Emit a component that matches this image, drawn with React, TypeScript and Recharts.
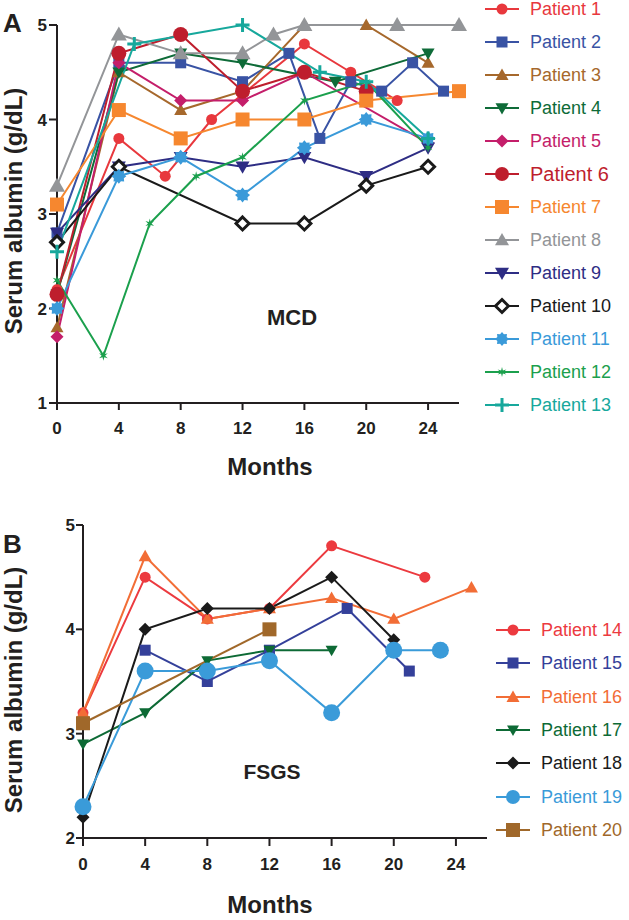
import React from "react";
import { LineChart, Line, XAxis, YAxis } from "recharts";

const FONT = "'Liberation Sans', Arial, Helvetica, sans-serif";
const INK = "#231f20";

// ---------- Panel A (MCD) ----------
const monthTicks = [0, 4, 8, 12, 16, 20, 24];
const yTicksA = [1, 2, 3, 4, 5];
const yTicksB = [2, 3, 4, 5];

const p1Months = [0, 4, 7, 10, 16, 19, 22];
const p1Values = [2.2, 3.8, 3.4, 4.0, 4.8, 4.5, 4.2];
const p2Months = [0, 4, 8, 12, 15, 17, 19, 21, 23, 25];
const p2Values = [2.8, 4.6, 4.6, 4.4, 4.7, 3.8, 4.4, 4.3, 4.6, 4.3];
const p3Months = [0, 4, 8, 12, 16, 20, 24];
const p3Values = [1.8, 4.5, 4.1, 4.3, 5.0, 5.0, 4.6];
const p4Months = [0, 4, 8, 12, 18, 24];
const p4Values = [2.15, 4.5, 4.7, 4.6, 4.4, 4.7];
const p5Months = [0, 4, 8, 12, 16, 24];
const p5Values = [1.7, 4.6, 4.2, 4.2, 4.5, 3.75];
const p6Months = [0, 4, 8, 12, 16, 20];
const p6Values = [2.15, 4.7, 4.9, 4.3, 4.5, 4.3];
const p7Months = [0, 4, 8, 12, 16, 20, 26];
const p7Values = [3.1, 4.1, 3.8, 4.0, 4.0, 4.2, 4.3];
const p8Months = [0, 4, 8, 12, 14, 16, 22, 26];
const p8Values = [3.3, 4.9, 4.7, 4.7, 4.9, 5.0, 5.0, 5.0];
const p9Months = [0, 4, 8, 12, 16, 20, 24];
const p9Values = [2.8, 3.5, 3.6, 3.5, 3.6, 3.4, 3.7];
const p10Months = [0, 4, 12, 16, 20, 24];
const p10Values = [2.7, 3.5, 2.9, 2.9, 3.3, 3.5];
const p11Months = [0, 4, 8, 12, 16, 20, 24];
const p11Values = [2.0, 3.4, 3.6, 3.2, 3.7, 4.0, 3.8];
const p12Months = [0, 3, 6, 9, 12, 16, 20, 24];
const p12Values = [2.3, 1.5, 2.9, 3.4, 3.6, 4.2, 4.4, 3.7];
const p13Months = [0, 5, 12, 17, 20, 24];
const p13Values = [2.6, 4.8, 5.0, 4.5, 4.4, 3.8];

// ---------- Panel B (FSGS) ----------
const p14Months = [0, 4, 8, 12, 16, 22];
const p14Values = [3.2, 4.5, 4.1, 4.2, 4.8, 4.5];
const p15Months = [4, 8, 12, 17, 21];
const p15Values = [3.8, 3.5, 3.8, 4.2, 3.6];
const p16Months = [0, 4, 8, 12, 16, 20, 25];
const p16Values = [3.2, 4.7, 4.1, 4.2, 4.3, 4.1, 4.4];
const p17Months = [0, 4, 8, 12, 16];
const p17Values = [2.9, 3.2, 3.7, 3.8, 3.8];
const p18Months = [0, 4, 8, 12, 16, 20];
const p18Values = [2.2, 4.0, 4.2, 4.2, 4.5, 3.9];
const p19Months = [0, 4, 8, 12, 16, 20, 23];
const p19Values = [2.3, 3.6, 3.6, 3.7, 3.2, 3.8, 3.8];
const p20Months = [0, 12];
const p20Values = [3.1, 4.0];

const toPoints = (m: number[], v: number[]) => m.map((x, i) => ({ x, y: v[i] }));

type Shape =
  | "circle" | "square" | "triangle" | "triangleDown" | "diamond"
  | "openDiamond" | "burst" | "star" | "plus";

interface Series {
  name: string;
  color: string;
  shape: Shape;
  size: number;
  data: { x: number; y: number }[];
  fontSize?: number;
}

const seriesA: Series[] = [
  { name: "Patient 1", color: "#e8383d", shape: "circle", size: 11, data: toPoints(p1Months, p1Values) },
  { name: "Patient 2", color: "#3953a4", shape: "square", size: 11, data: toPoints(p2Months, p2Values) },
  { name: "Patient 3", color: "#a6682c", shape: "triangle", size: 13, data: toPoints(p3Months, p3Values) },
  { name: "Patient 4", color: "#0e6b38", shape: "triangleDown", size: 13, data: toPoints(p4Months, p4Values) },
  { name: "Patient 5", color: "#c41e6a", shape: "diamond", size: 13, data: toPoints(p5Months, p5Values) },
  { name: "Patient 6", color: "#be1e2d", shape: "circle", size: 15, data: toPoints(p6Months, p6Values), fontSize: 20 },
  { name: "Patient 7", color: "#f6872f", shape: "square", size: 14, data: toPoints(p7Months, p7Values) },
  { name: "Patient 8", color: "#939598", shape: "triangle", size: 16, data: toPoints(p8Months, p8Values) },
  { name: "Patient 9", color: "#2e2d84", shape: "triangleDown", size: 14, data: toPoints(p9Months, p9Values) },
  { name: "Patient 10", color: "#1a1a1a", shape: "openDiamond", size: 13, data: toPoints(p10Months, p10Values) },
  { name: "Patient 11", color: "#3a9ad9", shape: "burst", size: 15, data: toPoints(p11Months, p11Values) },
  { name: "Patient 12", color: "#1ba04d", shape: "star", size: 10, data: toPoints(p12Months, p12Values) },
  { name: "Patient 13", color: "#17a89c", shape: "plus", size: 14, data: toPoints(p13Months, p13Values) },
];

const seriesB: Series[] = [
  { name: "Patient 14", color: "#ec3a3f", shape: "circle", size: 11, data: toPoints(p14Months, p14Values) },
  { name: "Patient 15", color: "#34409a", shape: "square", size: 11, data: toPoints(p15Months, p15Values) },
  { name: "Patient 16", color: "#f26d36", shape: "triangle", size: 13, data: toPoints(p16Months, p16Values) },
  { name: "Patient 17", color: "#0d6a35", shape: "triangleDown", size: 12, data: toPoints(p17Months, p17Values) },
  { name: "Patient 18", color: "#1a1a1a", shape: "diamond", size: 13, data: toPoints(p18Months, p18Values) },
  { name: "Patient 19", color: "#3a9bd9", shape: "circle", size: 17, data: toPoints(p19Months, p19Values) },
  { name: "Patient 20", color: "#a0682a", shape: "square", size: 14, data: toPoints(p20Months, p20Values) },
];

function Marker({ shape, cx, cy, color, size }: { shape: Shape; cx: number; cy: number; color: string; size: number }) {
  const s = size / 2;
  switch (shape) {
    case "circle":
      return <circle cx={cx} cy={cy} r={s} fill={color} />;
    case "square":
      return <rect x={cx - s} y={cy - s} width={size} height={size} fill={color} />;
    case "triangle":
      return <polygon points={`${cx},${cy - s} ${cx + s},${cy + s * 0.75} ${cx - s},${cy + s * 0.75}`} fill={color} />;
    case "triangleDown":
      return <polygon points={`${cx},${cy + s} ${cx + s},${cy - s * 0.75} ${cx - s},${cy - s * 0.75}`} fill={color} />;
    case "diamond":
      return <polygon points={`${cx},${cy - s} ${cx + s},${cy} ${cx},${cy + s} ${cx - s},${cy}`} fill={color} />;
    case "openDiamond":
      return (
        <polygon
          points={`${cx},${cy - s} ${cx + s},${cy} ${cx},${cy + s} ${cx - s},${cy}`}
          fill="#fff"
          stroke={color}
          strokeWidth={3}
        />
      );
    case "burst": {
      const pts: string[] = [];
      for (let i = 0; i < 16; i++) {
        const r = i % 2 === 0 ? s : s * 0.72;
        const a = (Math.PI * 2 * i) / 16;
        pts.push(`${cx + r * Math.cos(a)},${cy + r * Math.sin(a)}`);
      }
      return <polygon points={pts.join(" ")} fill={color} />;
    }
    case "star": {
      const pts: string[] = [];
      for (let i = 0; i < 12; i++) {
        const r = i % 2 === 0 ? s : s * 0.35;
        const a = (Math.PI * 2 * i) / 12 - Math.PI / 2;
        pts.push(`${cx + r * Math.cos(a)},${cy + r * Math.sin(a)}`);
      }
      return <polygon points={pts.join(" ")} fill={color} />;
    }
    case "plus":
      return (
        <path
          d={`M${cx - s},${cy} L${cx + s},${cy} M${cx},${cy - s} L${cx},${cy + s}`}
          stroke={color}
          strokeWidth={3}
        />
      );
  }
  return null;
}

const makeDot = (sr: Series) => (props: any) => (
  <g key={`${sr.name}-${props.index}`}>
    <Marker shape={sr.shape} cx={props.cx} cy={props.cy} color={sr.color} size={sr.size} />
  </g>
);

const tickStyle = { fontSize: 17, fontWeight: 700, fill: INK, fontFamily: FONT };
const axisLine = { stroke: INK, strokeWidth: 2 };

function LegendList({ series, left, top, step }: { series: Series[]; left: number; top: number; step: number }) {
  return (
    <>
      {series.map((sr, i) => {
        const cy = top + step * i;
        return (
          <div
            key={sr.name}
            style={{
              position: "absolute",
              left,
              top: cy - 12,
              height: 24,
              display: "flex",
              alignItems: "center",
              whiteSpace: "nowrap",
            }}
          >
            <svg width={40} height={24} style={{ display: "block" }}>
              <line x1={2} y1={12} x2={36} y2={12} stroke={sr.color} strokeWidth={2} />
              <Marker shape={sr.shape} cx={19} cy={12} color={sr.color} size={Math.min(sr.size, 14)} />
            </svg>
            <span
              style={{
                marginLeft: 7,
                color: sr.color,
                fontFamily: FONT,
                fontSize: sr.fontSize ?? 18,
                lineHeight: "24px",
              }}
            >
              {sr.name}
            </span>
          </div>
        );
      })}
    </>
  );
}

export default function App() {
  return (
    <div style={{ position: "absolute", left: 0, top: 0, width: 629, height: 920, background: "#fff", overflow: "hidden" }}>
      <div style={{ position: "absolute", left: 0, top: 0 }}>
        <LineChart width={629} height={490} margin={{ top: 25, right: 170, bottom: 47, left: 7 }}>
          <XAxis
            type="number"
            dataKey="x"
            domain={[0, 26]}
            ticks={monthTicks}
            height={40}
            tickSize={7}
            tickMargin={12}
            tick={tickStyle}
            axisLine={axisLine}
            tickLine={axisLine}
            allowDuplicatedCategory={false}
          />
          <YAxis
            type="number"
            domain={[1, 5]}
            ticks={yTicksA}
            width={50}
            tickSize={8}
            tickMargin={2}
            tick={tickStyle}
            axisLine={axisLine}
            tickLine={axisLine}
          />
          {seriesA.map((sr) => (
            <Line
              key={sr.name}
              data={sr.data}
              dataKey="y"
              name={sr.name}
              type="linear"
              stroke={sr.color}
              strokeWidth={2}
              dot={makeDot(sr)}
              activeDot={false}
              isAnimationActive={false}
            />
          ))}
        </LineChart>
      </div>
      <div style={{ position: "absolute", left: 0, top: 490 }}>
        <LineChart width={629} height={430} margin={{ top: 35, right: 142, bottom: 42, left: 23 }}>
          <XAxis
            type="number"
            dataKey="x"
            domain={[0, 26]}
            ticks={monthTicks}
            height={40}
            tickSize={8}
            tickMargin={12}
            tick={tickStyle}
            axisLine={axisLine}
            tickLine={axisLine}
            allowDuplicatedCategory={false}
          />
          <YAxis
            type="number"
            domain={[2, 5]}
            ticks={yTicksB}
            width={60}
            tickSize={7}
            tickMargin={1}
            tick={tickStyle}
            axisLine={axisLine}
            tickLine={axisLine}
          />
          {seriesB.map((sr) => (
            <Line
              key={sr.name}
              data={sr.data}
              dataKey="y"
              name={sr.name}
              type="linear"
              stroke={sr.color}
              strokeWidth={2}
              dot={makeDot(sr)}
              activeDot={false}
              isAnimationActive={false}
            />
          ))}
        </LineChart>
      </div>

      <svg
        width={629}
        height={920}
        style={{ position: "absolute", left: 0, top: 0, pointerEvents: "none" }}
        fontFamily={FONT}
        fontWeight={700}
        fill={INK}
      >
        <text x={3} y={32} fontSize={26}>A</text>
        <text x={3} y={553} fontSize={26}>B</text>
        <text x={22} y={211} fontSize={24} textAnchor="middle" transform="rotate(-90, 22, 211)">
          Serum albumin (g/dL)
        </text>
        <text x={22} y={690} fontSize={24} textAnchor="middle" transform="rotate(-90, 22, 690)">
          Serum albumin (g/dL)
        </text>
        <text x={270} y={475} fontSize={24} textAnchor="middle">Months</text>
        <text x={270} y={913} fontSize={24} textAnchor="middle">Months</text>
        <text x={292} y={325} fontSize={22} textAnchor="middle">MCD</text>
        <text x={272} y={779} fontSize={21} textAnchor="middle">FSGS</text>
      </svg>

      <LegendList series={seriesA} left={483} top={9} step={33} />
      <LegendList series={seriesB} left={494} top={630} step={33.3} />
    </div>
  );
}
